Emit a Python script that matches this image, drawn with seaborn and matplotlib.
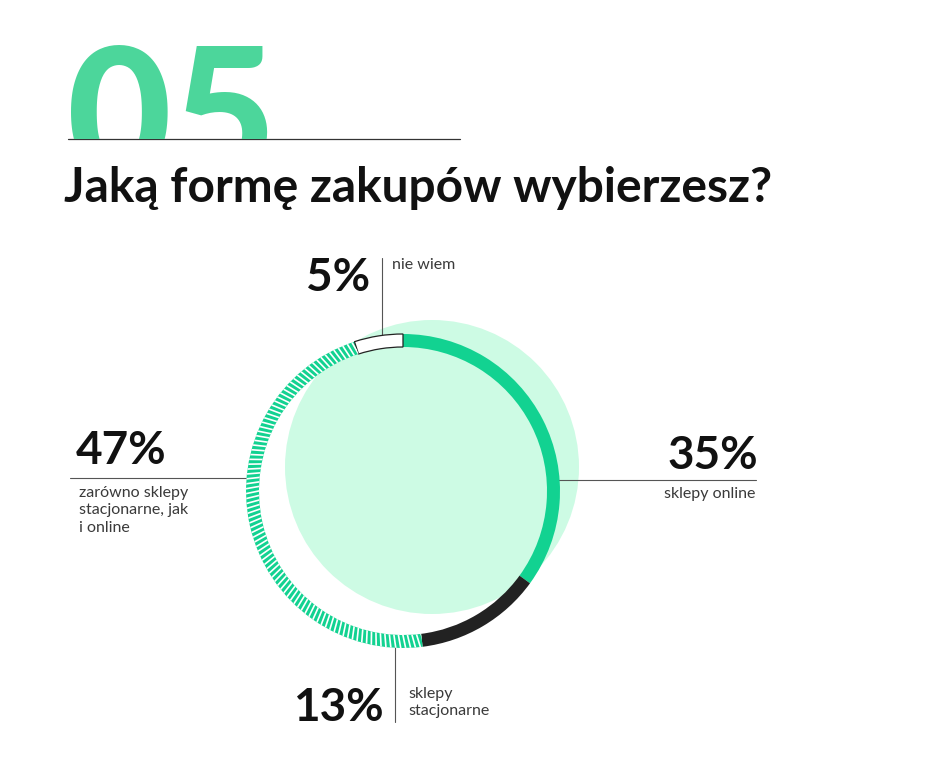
import numpy as np
import matplotlib
matplotlib.use("Agg")
import matplotlib.pyplot as plt
from matplotlib.patches import Circle, Rectangle
import seaborn as sns

# data
categories = ["sklepy online", "sklepy\nstacjonarne", "zarówno sklepy\nstacjonarne, jak\ni online", "nie wiem"]
shares = [35, 13, 47, 5]
share_labels = ["35%", "13%", "47%", "5%"]
title = "Jaką formę zakupów wybierzesz?"
number = "05"

GREEN = "#12d291"
LIGHT = "#cdfbe4"
NUM_GREEN = "#4cd69b"
DARK = "#222222"
W, H = 945, 763

sns.set_theme(style="white")
plt.rcParams["font.family"] = ["Lato", "DejaVu Sans"]


def Y(y):
    return H - y


fig = plt.figure(figsize=(W / 100, H / 100), dpi=100)
ax = fig.add_axes([0, 0, 1, 1])

# big section number, cut off at the rule
num = ax.text(67, Y(178), number, fontsize=130, fontweight="black", color=NUM_GREEN, va="baseline")
num.set_clip_on(True)
num.set_clip_path(Rectangle((0, Y(139)), W, H, transform=ax.transData))
ax.plot([68, 460], [Y(139), Y(139)], color="#333333", lw=0.9)

ax.text(64, Y(202), title, fontsize=34.5, fontweight="bold", color="#111111", va="baseline")

# background disc
ax.add_patch(Circle((432, Y(467)), 147, color=LIGHT, lw=0, zorder=1))

# ring
cx, cy, r, w = 403, Y(491), 157, 13
wedges, _ = ax.pie(shares, center=(cx, cy), radius=r, startangle=90, counterclock=False,
                   colors=[GREEN, DARK, GREEN, "white"],
                   wedgeprops=dict(width=w, linewidth=0))
for wd in wedges:
    wd.set_zorder(3)
wedges[3].set_edgecolor("#222222")
wedges[3].set_linewidth(0.9)

# slanted white stripes on the "both" segment
hw = wedges[2]
for ang in np.arange(hw.theta1 - 2, hw.theta2 + 1, 1.8):
    a0, a1 = np.deg2rad(ang), np.deg2rad(ang + 1.3)
    ln, = ax.plot([cx + (r - w - 2) * np.cos(a0), cx + (r + 2) * np.cos(a1)],
                  [cy + (r - w - 2) * np.sin(a0), cy + (r + 2) * np.sin(a1)],
                  color="white", lw=1.2, solid_capstyle="butt", zorder=4)
    ln.set_clip_path(hw)

lc = "#555555"
big = dict(fontsize=33, fontweight="bold", color="#111111")
small = dict(fontsize=11.5, fontweight="normal", color="#3a3a3a", linespacing=1.3)

# 35% - online
ax.plot([558, 756], [Y(480), Y(480)], color=lc, lw=0.8, zorder=2)
ax.text(758, Y(469), share_labels[0], ha="right", va="baseline", **big)
ax.text(755, Y(487), categories[0], ha="right", va="top", **small)

# 13% - stationary
ax.plot([395, 395], [Y(645), Y(722)], color=lc, lw=0.8, zorder=2)
ax.text(384, Y(721), share_labels[1], ha="right", va="baseline", **big)
ax.text(408, Y(687), categories[1], ha="left", va="top", **small)

# 47% - both
ax.plot([70, 248], [Y(478), Y(478)], color=lc, lw=0.8, zorder=2)
ax.text(76, Y(464), share_labels[2], ha="left", va="baseline", **big)
ax.text(79, Y(486), categories[2], ha="left", va="top", **small)

# 5% - don't know
ax.plot([382, 382], [Y(258), Y(340)], color=lc, lw=0.8, zorder=2)
ax.text(370, Y(291), share_labels[3], ha="right", va="baseline", **big)
ax.text(392, Y(258), categories[3], ha="left", va="top", **small)

ax.set_xlim(0, W)
ax.set_ylim(0, H)
ax.set_aspect("equal")
ax.axis("off")

fig.savefig("out.png", dpi=100, facecolor="white")
